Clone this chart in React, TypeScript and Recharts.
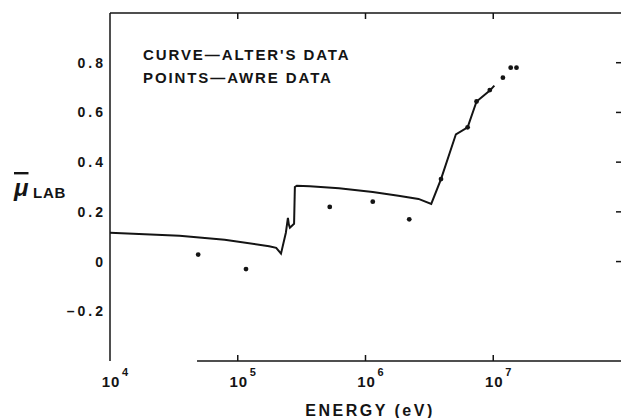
import React from 'react';
import {
    ComposedChart, Line, Scatter, XAxis, YAxis, ReferenceLine,
} from 'recharts';

// Alter's data (solid curve): energy in eV, mean cosine mu_lab
const curveEnergy = [
    1e4, 3.5e4, 7.9e4, 1.76e5, 2.0e5, 2.18e5, 2.38e5, 2.47e5, 2.51e5, 2.56e5,
    2.76e5, 2.8e5, 2.9e5, 3.66e5, 6.2e5, 1.14e6, 1.81e6, 2.6e6, 3.27e6, 3.9e6,
    5.1e6, 6.3e6, 7.4e6, 9.4e6, 1.02e7,
];
const curveMu = [
    0.116, 0.104, 0.088, 0.062, 0.055, 0.032, 0.116, 0.176, 0.15, 0.136,
    0.152, 0.30, 0.305, 0.303, 0.295, 0.28, 0.265, 0.252, 0.232, 0.332,
    0.512, 0.54, 0.644, 0.688, 0.708,
];

// AWRE data (points)
const pointEnergy = [4.9e4, 1.16e5, 5.25e5, 1.14e6, 2.2e6, 3.9e6, 6.3e6, 7.4e6, 9.4e6, 1.19e7, 1.37e7, 1.52e7];
const pointMu = [0.028, -0.03, 0.22, 0.241, 0.17, 0.332, 0.54, 0.644, 0.69, 0.74, 0.78, 0.78];

const xTicks = [1e4, 1e5, 1e6, 1e7];
const topTicks = [1e5, 1e6, 1e7];
const yTicks = [-0.2, 0, 0.2, 0.4, 0.6, 0.8];
const rightTicks = [0, 0.2, 0.4, 0.6, 0.8];

const curve = curveEnergy.map((e, i) => ({ energy: e, mu: curveMu[i] }));
const points = pointEnergy.map((e, i) => ({ energy: e, mu: pointMu[i] }));

const INK = '#141414';
const FONT = '"Liberation Sans", Arial, sans-serif';

const XTick = ({ x, y, payload }: any) => {
    const exp = Math.round(Math.log10(payload.value));
    return (
        <g>
            {exp > 4 && <line x1={x} x2={x} y1={y} y2={y - 6} stroke={INK} strokeWidth={1.5} />}
            <text x={x + 1} y={y + 26} textAnchor="middle" fill={INK} fontFamily={FONT}
                  fontWeight="bold" fontSize={15} letterSpacing={1}>10</text>
            <text x={x + 12} y={y + 15} fill={INK} fontFamily={FONT}
                  fontWeight="bold" fontSize={11}>{exp}</text>
        </g>
    );
};

const TopTick = ({ x, y }: any) => (
    <line x1={x} x2={x} y1={y} y2={y + 6} stroke={INK} strokeWidth={1.5} />
);

const RightTick = ({ x, y }: any) => (
    <line x1={x} x2={x - 5} y1={y} y2={y} stroke={INK} strokeWidth={1.5} />
);

const YTick = ({ x, y, payload }: any) => {
    const v = payload.value;
    const label = v === 0 ? '0' : v < 0 ? '\u2013' + Math.abs(v).toFixed(1) : v.toFixed(1);
    return (
        <text x={x} y={y + 5} textAnchor="end" fill={INK} fontFamily={FONT}
              fontWeight="bold" fontSize={14} letterSpacing={3}>{label}</text>
    );
};

const Dot = ({ cx, cy }: any) => <circle cx={cx} cy={cy} r={2.4} fill={INK} />;

export default function App() {
    return (
        <div style={{ position: 'absolute', left: 0, top: 0, background: '#fff' }}>
            <ComposedChart width={622} height={418} data={curve}
                           margin={{ top: 12, right: 0, left: 50, bottom: 17 }}>
                <XAxis xAxisId="bottom" dataKey="energy" type="number" scale="log"
                       domain={[1e4, 1e8]} ticks={xTicks} allowDataOverflow
                       axisLine={false} tickLine={false} tickSize={0} tickMargin={0}
                       height={40} tick={<XTick />} interval={0} />
                <XAxis xAxisId="top" orientation="top" dataKey="energy" type="number" scale="log"
                       domain={[1e4, 1e8]} ticks={topTicks} allowDataOverflow
                       axisLine={{ stroke: INK, strokeWidth: 1.5 }} tickLine={false}
                       tickSize={0} tickMargin={0} height={1} tick={<TopTick />} interval={0} />
                <YAxis yAxisId="left" dataKey="mu" type="number" domain={[-0.4, 1.0]}
                       ticks={yTicks} allowDataOverflow width={60}
                       axisLine={{ stroke: INK, strokeWidth: 1.5 }} tickLine={false}
                       tickSize={0} tickMargin={4} tick={<YTick />} interval={0} />
                <YAxis yAxisId="right" orientation="right" dataKey="mu" type="number"
                       domain={[-0.4, 1.0]} ticks={rightTicks} allowDataOverflow width={1}
                       axisLine={false} tickLine={false} tickSize={0} tickMargin={0}
                       tick={<RightTick />} interval={0} />
                <ReferenceLine xAxisId="bottom" yAxisId="left"
                               segment={[{ x: 4.8e4, y: -0.4 }, { x: 1e8, y: -0.4 }]}
                               stroke={INK} strokeWidth={1.5} />
                <Line xAxisId="bottom" yAxisId="left" data={curve} dataKey="mu" type="linear"
                      stroke={INK} strokeWidth={2} dot={false} isAnimationActive={false} />
                <Scatter xAxisId="bottom" yAxisId="left" data={points} dataKey="mu"
                         shape={<Dot />} isAnimationActive={false} />
                <text x={143} y={60} fill={INK} fontFamily={FONT} fontWeight="bold"
                      fontSize={15} letterSpacing={1.9}>CURVE{'\u2014'}ALTER'S DATA</text>
                <text x={143} y={83} fill={INK} fontFamily={FONT} fontWeight="bold"
                      fontSize={15} letterSpacing={1.9}>POINTS{'\u2014'}AWRE DATA</text>
                <text x={14} y={196} fill={INK} fontFamily={FONT} fontWeight="bold"
                      fontStyle="italic" fontSize={24} textDecoration="overline">{'\u03BC'}</text>
                <text x={33} y={198} fill={INK} fontFamily={FONT} fontWeight="bold"
                      fontSize={15} letterSpacing={0.8}>LAB</text>
                <text x={370} y={416} textAnchor="middle" fill={INK} fontFamily={FONT}
                      fontWeight="bold" fontSize={16} letterSpacing={2.5}>ENERGY (eV)</text>
            </ComposedChart>
        </div>
    );
}
